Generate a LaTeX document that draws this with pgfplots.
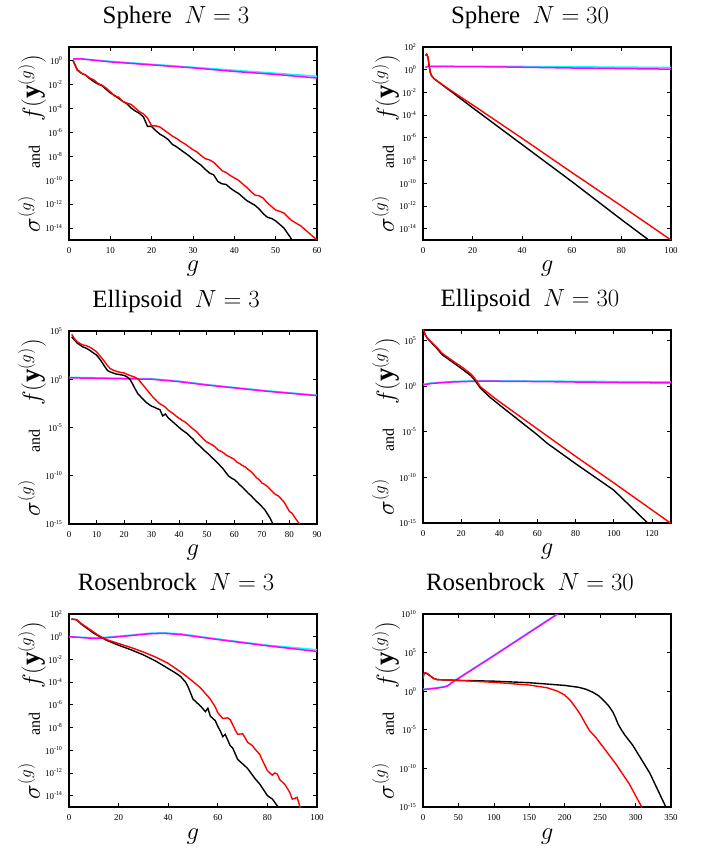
\documentclass[border=0pt]{standalone}
\usepackage{fontspec}
\setmainfont{Liberation Serif}
\usepackage{pgfplots}
\pgfplotsset{compat=1.18}
\definecolor{cyn}{rgb}{0,1,1}
\definecolor{mag}{rgb}{1,0,1}
\newcommand{\tp}[1]{10\textsuperscript{#1}}
\pgfkeys{/pgf/number format/assume math mode=true}
\pgfplotsset{
  every axis/.append style={
    scale only axis, width=248bp, height=193bp,
    axis line style={line width=1.7bp},
    tick style={line width=0.7bp, black},
    major tick length=4bp, tick align=inside,
    ticklabel style={font=\fontsize{9}{10}\selectfont},
    xticklabel style={yshift=-4bp},
    yticklabel style={xshift=-3bp},
    title style={at={(0.5,1)}, anchor=base, yshift=18bp, xshift=-17bp, font=\fontsize{25}{30}\selectfont},
    xlabel={$g$},
    ylabel={$\sigma^{(g)}$\hspace{27bp}{\fontsize{16}{18}\selectfont and}\hspace{24bp}$f(\mathbf{y}^{(g)})$},
  },
  every axis x label/.style={at={(axis description cs:0.5,0)}, anchor=base, yshift=-32bp, inner sep=0pt, font=\fontsize{25}{30}\selectfont},
  every axis y label/.style={at={(axis description cs:-0.117,0.5)}, rotate=90, anchor=base, font=\fontsize{27}{30}\selectfont},
}
\begin{document}
\begin{tikzpicture}
\path[use as bounding box] (0,0) rectangle (702bp,848bp);

% ---------------- Sphere N=3
\begin{axis}[ymode=log, ymin=1e-15, at={(69bp,608bp)}, anchor=south west,
  title={Sphere\ \ $N=3$}, xmin=0, xmax=60, ymax=14, xtick={0,10,...,60},
  ytick={1e-14,1e-12,1e-10,1e-8,1e-6,1e-4,1e-2,1},
  yticklabels={\tp{-14},\tp{-12},\tp{-10},\tp{-8},\tp{-6},\tp{-4},\tp{-2},\tp{0}}]
\addplot[cyn, line width=1.5bp] coordinates {(1,1.41)(3,1.41)(10,8.91e-1)(20,5.01e-1)(30,2.82e-1)(40,1.58e-1)(50,8.91e-2)(60,5.01e-2)};
\addplot[mag, line width=1.5bp] coordinates {(1,1.41)(3,1.41)(10,7.94e-1)(20,4.47e-1)(30,2.51e-1)(40,1.26e-1)(50,7.08e-2)(60,3.55e-2)};
\addplot[black, line width=1.4bp] coordinates {(1,1)(2,1.78e-1)(3,8.91e-2)(4,6.31e-2)(5,3.16e-2)(6,1.78e-2)(7,1.12e-2)(8,7.94e-3)(9,3.98e-3)(10,2.0e-3)
(11,1.26e-3)(12,7.08e-4)(13,3.98e-4)(14,2.51e-4)(15,1.12e-4)(16,6.31e-5)(17,3.98e-5)(18,2.0e-5)(19,3.16e-6)(20,3.16e-6)
(21,1.41e-6)(22,7.08e-7)(23,4.47e-7)(24,2.51e-7)(25,1e-7)(26,6.31e-8)(27,3.55e-8)(28,2.0e-8)(29,1.12e-8)(30,5.62e-9)
(31,3.16e-9)(32,1.78e-9)(33,7.94e-10)(34,3.98e-10)(35,2.82e-10)(36,7.94e-11)(37,5.01e-11)(38,4.47e-11)(39,2.24e-11)(40,1.26e-11)
(41,7.94e-12)(42,3.98e-12)(43,2.0e-12)(44,1.26e-12)(45,7.94e-13)(46,3.98e-13)(47,1.58e-13)(48,7.94e-14)(49,6.31e-14)(50,3.98e-14)
(51,2.0e-14)(52,1e-14)(53,3.16e-15)(54,1e-15)(55,5e-16)};
\addplot[red, line width=1.4bp] coordinates {(1,1)(2,1.58e-1)(3,8.91e-2)(4,6.31e-2)(5,3.55e-2)(6,2.51e-2)(7,1.26e-2)(8,8.91e-3)(9,5.01e-3)(10,2.51e-3)
(11,1.12e-3)(12,8.91e-4)(13,3.98e-4)(14,2.82e-4)(15,2.24e-4)(16,1.12e-4)(17,5.62e-5)(18,3.55e-5)(19,1.58e-5)(20,3.55e-6)
(21,3.55e-6)(22,2.82e-6)(23,1.58e-6)(24,8.91e-7)(25,5.01e-7)(26,3.16e-7)(27,1.78e-7)(28,1.12e-7)(29,6.31e-8)(30,3.55e-8)
(31,2.24e-8)(32,1.12e-8)(33,6.31e-9)(34,5.01e-9)(35,3.16e-9)(36,1.41e-9)(37,6.31e-10)(38,4.47e-10)(39,2.51e-10)(40,1.58e-10)
(41,1e-10)(42,5.01e-11)(43,2.51e-11)(44,1.12e-11)(45,5.62e-12)(46,5.01e-12)(47,3.16e-12)(48,1.26e-12)(49,6.31e-13)(50,3.16e-13)
(51,2.51e-13)(52,1.78e-13)(53,7.94e-14)(54,3.98e-14)(55,2.51e-14)(56,1.58e-14)(57,7.94e-15)(58,3.98e-15)(59,2.0e-15)(60,1e-15)};
\end{axis}

% ---------------- Sphere N=30
\begin{axis}[ymode=log, ymin=1e-15, at={(423bp,608bp)}, anchor=south west,
  title={Sphere\ \ $N=30$}, xmin=0, xmax=100, ymax=100, xtick={0,20,...,100},
  ytick={1e-14,1e-12,1e-10,1e-8,1e-6,1e-4,1e-2,1,1e2},
  yticklabels={\tp{-14},\tp{-12},\tp{-10},\tp{-8},\tp{-6},\tp{-4},\tp{-2},\tp{0},\tp{2}}]
\addplot[cyn, line width=1.5bp] coordinates {(1,1.58)(2,2.0)(30,2.0)(60,1.78)(100,1.58)};
\addplot[mag, line width=1.5bp] coordinates {(1,1.58)(2,2.0)(30,1.78)(60,1.41)(100,1.12)};
\addplot[black, line width=1.4bp] coordinates {(1,1.78e1)(1.5,2.24e1)(2,1.26e1)(2.5,2.0)(3,5.01e-1)(3.5,2.82e-1)(4.5,1.58e-1)(10,2.0e-2)(20,4.47e-4)(40,2.51e-7)(60,1.41e-10)(80,6.31e-14)(91,1e-15)(92,6e-16)};
\addplot[red, line width=1.4bp] coordinates {(1,1.78e1)(1.5,2.24e1)(2,1.26e1)(2.5,2.0)(3,5.01e-1)(3.5,2.82e-1)(4.5,1.58e-1)(10,2.24e-2)(20,7.94e-4)(40,8.91e-7)(60,8.91e-10)(80,1e-12)(100,1e-15)};
\end{axis}

% ---------------- Ellipsoid N=3
\begin{axis}[ymode=log, ymin=1e-15, at={(69bp,324bp)}, anchor=south west,
  title={Ellipsoid\ \ $N=3$}, xmin=0, xmax=90, ymax=1e5, xtick={0,10,...,90},
  ytick={1e-15,1e-10,1e-5,1,1e5},
  yticklabels={\tp{-15},\tp{-10},\tp{-5},\tp{0},\tp{5}}]
\addplot[cyn, line width=1.5bp] coordinates {(0,1.58)(10,1.41)(20,1.26)(30,1.12)(40,6.31e-1)(50,2.82e-1)(60,1.41e-1)(72,6.31e-2)(80,3.98e-2)(90,2.24e-2)};
\addplot[mag, line width=1.5bp] coordinates {(0,1.41)(10,1.26)(20,1.12)(30,1)(40,5.62e-1)(50,2.51e-1)(60,1.26e-1)(72,5.62e-2)(80,3.55e-2)(90,2.0e-2)};
\addplot[black, line width=1.4bp] coordinates {(1,2.51e4)(2,1.12e4)(3,5.62e3)(4,3.55e3)(5,2.24e3)(6,1.78e3)(7,1.26e3)(8,7.94e2)(9,5.01e2)(10,3.16e2)
(11,1.41e2)(12,5.62e1)(13,2.0e1)(14,7.94)(15,5.62)(16,4.47)(17,3.55)(18,3.16)(20,2.51)(21,1.78)(22,1.12)(23,3.55e-1)(24,1e-1)(25,3.16e-2)
(26,1.58e-2)(27,7.94e-3)(28,3.98e-3)(29,2.51e-3)(30,1.58e-3)(31,1.26e-3)(32,8.91e-4)(33,7.08e-4)(34,1.58e-4)(35,2.51e-4)
(36,1e-4)(37,5.62e-5)(38,3.16e-5)(39,1.78e-5)(40,1e-5)(41,5.62e-6)(42,3.55e-6)(43,2.24e-6)(44,1.12e-6)(45,6.31e-7)
(46,2.82e-7)(47,1.58e-7)(48,8.91e-8)(49,4.47e-8)(50,2.51e-8)(51,1.41e-8)(52,7.08e-9)(53,3.98e-9)(54,2.0e-9)(55,1e-9)
(56,5.01e-10)(57,2.0e-10)(58,8.91e-11)(59,5.62e-11)(60,3.98e-11)(61,2.24e-11)(62,1.12e-11)(63,6.31e-12)(64,3.16e-12)(65,1.58e-12)
(66,8.91e-13)(67,4.47e-13)(68,2.24e-13)(69,1.26e-13)(70,6.31e-14)(71,3.16e-14)(72,1.12e-14)(73,3.98e-15)(74,1e-15)(75,5.01e-16)};
\addplot[red, line width=1.4bp] coordinates {(1,4.47e4)(2,1.58e4)(3,7.94e3)(4,5.01e3)(5,3.55e3)(6,3.16e3)(7,2.51e3)(8,1.78e3)(9,1.12e3)(10,7.08e2)
(11,3.16e2)(12,1.41e2)(13,6.31e1)(14,2.51e1)(15,1.26e1)(16,8.91)(17,7.08)(18,5.62)(20,4.47)(22,2.51)(24,1.58)(25,1.12)(26,5.01e-1)
(27,2.24e-1)(28,1e-1)(29,4.47e-2)(30,2.0e-2)(31,1e-2)(32,5.01e-3)(33,2.82e-3)(34,2.0e-3)(35,1.26e-3)(36,6.31e-4)(37,3.98e-4)
(38,2.51e-4)(39,1.41e-4)(40,8.91e-5)(41,5.62e-5)(42,3.98e-5)(43,2.24e-5)(44,1.26e-5)(45,7.08e-6)(46,4.47e-6)(47,2.24e-6)
(48,1.12e-6)(49,5.62e-7)(50,3.16e-7)(51,2.24e-7)(52,1.58e-7)(53,1e-7)(54,5.01e-8)(55,3.55e-8)(56,2.51e-8)(57,1.41e-8)
(58,1e-8)(59,7.08e-9)(60,5.01e-9)(61,2.51e-9)(62,1.78e-9)(63,1.12e-9)(64,7.94e-10)(65,4.47e-10)(66,2.82e-10)(67,1.41e-10)
(68,6.31e-11)(69,3.98e-11)(70,1.78e-11)(71,1.26e-11)(72,7.94e-12)(73,3.98e-12)(74,2.0e-12)(75,1.12e-12)(76,7.94e-13)(77,3.98e-13)
(78,2.0e-13)(79,6.31e-14)(80,2.0e-14)(81,1.26e-14)(82,4.47e-15)(83,1.78e-15)(84,7.94e-16)};
\end{axis}

% ---------------- Ellipsoid N=30
\begin{axis}[ymode=log, ymin=1e-15, at={(423bp,325bp)}, anchor=south west,
  title={Ellipsoid\ \ $N=30$}, xmin=0, xmax=130, ymax=1.41e6, xtick={0,20,...,120},
  ytick={1e-15,1e-10,1e-5,1,1e5},
  yticklabels={\tp{-15},\tp{-10},\tp{-5},\tp{0},\tp{5}}]
\addplot[cyn, line width=1.5bp] coordinates {(0,1.58)(5,2.24)(15,3.16)(30,3.98)(60,3.55)(100,3.16)(130,2.82)};
\addplot[mag, line width=1.5bp] coordinates {(0,1.41)(5,2.0)(15,2.82)(30,3.55)(60,3.16)(100,2.51)(130,2.24)};
\addplot[black, line width=1.4bp] coordinates {(0,2.0e6)(1,5.01e5)(2,2.0e5)(4,7.08e4)(7,1.58e4)(10,2.82e3)(15,5.01e2)(20,8.91e1)(25,1.41e1)(27,5.01)(30,6.31e-1)(35,6.31e-2)(40,8.91e-3)(50,2.0e-4)(60,4.47e-6)(65,5.62e-7)(80,3.16e-9)(100,3.98e-12)(118,8.91e-16)};
\addplot[red, line width=1.4bp] coordinates {(0,2.0e6)(1,5.01e5)(2,2.24e5)(4,7.94e4)(7,2.0e4)(10,3.98e3)(15,7.08e2)(20,1.41e2)(25,2.24e1)(27,7.94)(30,8.91e-1)(35,1.26e-1)(40,2.0e-2)(60,2.0e-5)(80,2.0e-8)(100,2.51e-11)(130,8.91e-16)};
\end{axis}

% ---------------- Rosenbrock N=3
\begin{axis}[ymode=log, ymin=1e-15, at={(69bp,41bp)}, anchor=south west,
  title={Rosenbrock\ \ $N=3$}, xmin=0, xmax=100, ymax=100, xtick={0,20,...,100},
  ytick={1e-14,1e-12,1e-10,1e-8,1e-6,1e-4,1e-2,1,1e2},
  yticklabels={\tp{-14},\tp{-12},\tp{-10},\tp{-8},\tp{-6},\tp{-4},\tp{-2},\tp{0},\tp{2}}]
\addplot[cyn, line width=1.5bp] coordinates {(0,1)(10,7.94e-1)(15,8.91e-1)(25,1.41)(32,2.0)(38,2.24)(45,1.78)(60,6.31e-1)(80,1.78e-1)(100,7.08e-2)};
\addplot[mag, line width=1.5bp] coordinates {(0,1)(10,7.08e-1)(15,7.94e-1)(25,1.26)(32,1.78)(38,2.0)(45,1.58)(60,5.62e-1)(80,1.58e-1)(100,5.01e-2)};
\addplot[black, line width=1.4bp] coordinates {(1,3.55e1)(3,3.16e1)(5,1.26e1)(10,2.0)(15,5.01e-1)(20,1.78e-1)(25,7.08e-2)(30,2.51e-2)(35,7.08e-3)(40,1.58e-3)
(43,6.31e-4)(45,3.16e-4)(47,1e-4)(48,3.98e-5)(50,3.16e-6)(52,1.26e-6)(53,7.94e-7)(55,2.51e-7)(56,5.01e-7)(57,1e-7)(59,3.98e-8)
(60,1.26e-8)(61,5.01e-9)(62,1.58e-9)(63,2.51e-9)(65,2.51e-10)(66,1.58e-10)(68,1.58e-11)(70,6.31e-12)(72,2.51e-12)(75,3.16e-13)
(77,1e-13)(80,1e-14)(82,5.01e-15)(84,1.26e-15)(85,6.31e-16)};
\addplot[red, line width=1.4bp] coordinates {(1,3.55e1)(3,3.16e1)(5,1.41e1)(7,7.08)(10,2.51)(12,1.26)(15,5.62e-1)(20,2.51e-1)(25,1.12e-1)(30,4.47e-2)
(35,1.58e-2)(40,4.47e-3)(45,7.94e-4)(48,2.51e-4)(50,1.12e-4)(53,3.16e-5)(55,1e-5)(57,3.16e-6)(59,6.31e-7)(60,2.0e-7)
(62,6.31e-8)(64,7.08e-8)(65,5.01e-8)(67,6.31e-9)(68,2.51e-9)(70,2.82e-9)(71,1.26e-9)(72,5.01e-10)(74,2.51e-10)(75,1.26e-10)
(77,3.98e-11)(78,1.26e-11)(80,1.58e-12)(81,1e-12)(82,6.31e-13)(83,1e-12)(84,7.94e-13)(85,2.51e-13)(87,1e-13)(89,2.0e-14)
(90,5.01e-15)(91,5.62e-15)(92,7.08e-15)(93,1.26e-15)(93.5,6.31e-16)};
\end{axis}

% ---------------- Rosenbrock N=30
\begin{axis}[ymode=log, ymin=1e-15, at={(423bp,41bp)}, anchor=south west,
  title={Rosenbrock\ \ $N=30$}, xmin=0, xmax=350, ymax=1e10, xtick={0,50,...,350},
  ytick={1e-15,1e-10,1e-5,1,1e5,1e10},
  yticklabels={\tp{-15},\tp{-10},\tp{-5},\tp{0},\tp{5},\tp{10}}]
\addplot[cyn, line width=1.5bp] coordinates {(0,1.78)(10,2.24)(20,2.82)(30,3.98)(35,5.62)(40,1.26e1)(45,2.51e1)(50,5.01e1)(100,4.47e4)(150,4.47e7)(195,2.24e10)};
\addplot[mag, line width=1.5bp] coordinates {(0,1.58)(10,2.0)(20,2.51)(30,3.55)(35,5.01)(40,1.12e1)(45,2.24e1)(50,4.47e1)(100,3.98e4)(150,3.98e7)(195,2.0e10)};
\addplot[black, line width=1.4bp] coordinates {(0,3.98e1)(1,1.58e2)(3,2.24e2)(6,1.78e2)(10,1e2)(15,4.47e1)(20,3.16e1)(50,2.51e1)(100,2.0e1)(150,1.26e1)
(200,5.62)(220,3.16)(230,1.78)(240,7.08e-1)(248,2.51e-1)(255,6.31e-2)(262,1.26e-2)(268,2.0e-3)(272,3.16e-4)(275,6.31e-5)
(280,1e-5)(285,2.0e-6)(296,1e-7)(320,2.51e-11)(343,8.91e-16)};
\addplot[red, line width=1.4bp] coordinates {(0,3.98e1)(1,1.58e2)(3,2.51e2)(6,2.0e2)(10,1e2)(15,4.47e1)(20,3.16e1)(50,2.51e1)(100,1.41e1)(150,6.31)
(175,2.82)(190,1)(200,3.16e-1)(208,6.31e-2)(216,6.31e-3)(222,1e-3)(228,1e-4)(235,7.94e-6)(244,1e-6)(258,2.0e-8)
(272,3.98e-10)(291,1e-12)(309,8.91e-16)};
\end{axis}
\end{tikzpicture}
\end{document}
